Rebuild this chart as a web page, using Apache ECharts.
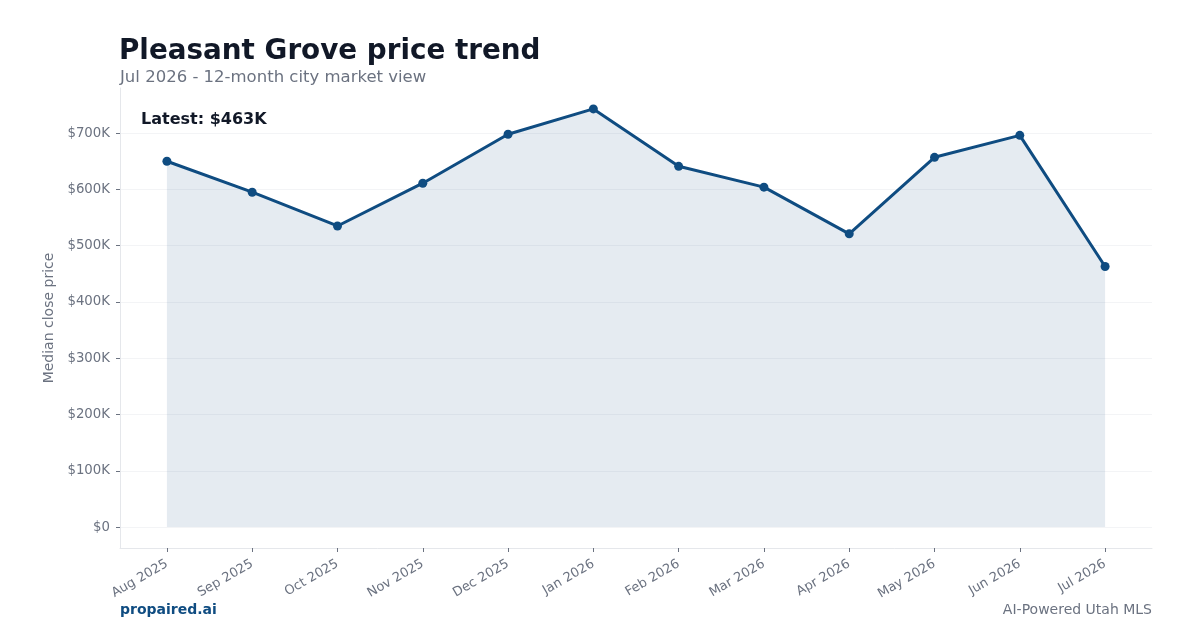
<!DOCTYPE html>
<html>
<head>
<meta charset="utf-8">
<script src="https://cdn.jsdelivr.net/npm/echarts@6/dist/echarts.min.js"></script>
<style>
  html, body { margin: 0; padding: 0; background: #fff; }
  #chart { width: 1200px; height: 630px; }
</style>
</head>
<body>
<div id="chart"></div>
<script>
var months = ['Aug 2025', 'Sep 2025', 'Oct 2025', 'Nov 2025', 'Dec 2025', 'Jan 2026',
              'Feb 2026', 'Mar 2026', 'Apr 2026', 'May 2026', 'Jun 2026', 'Jul 2026'];
var medianPrice = [650000, 595000, 535000, 611000, 698000, 743000,
                   641000, 604000, 521000, 657000, 696000, 463000];
var yTicks = [0, 100000, 200000, 300000, 400000, 500000, 600000, 700000];
var xTicks = months.map(function (m, i) { return i; });

var dom = document.getElementById('chart');
var myChart = echarts.init(dom, null, { renderer: 'canvas' });
var font = 'DejaVu Sans';

var points = medianPrice.map(function (v, i) { return [i, v]; });

function money(v) {
    return v === 0 ? '$0' : '$' + Math.round(v / 1000) + 'K';
}

var option = {
    animation: false,
    backgroundColor: '#ffffff',
    textStyle: { fontFamily: font },
    grid: { left: 120, right: 48, top: 88, bottom: 82 },
    graphic: [
        { type: 'text', left: 119, top: 38, style: { text: 'Pleasant Grove price trend', font: 'bold 27.8px "DejaVu Sans"', fill: '#111827' } },
        { type: 'text', left: 120, top: 69, style: { text: 'Jul 2026 - 12-month city market view', font: '16.5px "DejaVu Sans"', fill: '#6b7280' } },
        { type: 'text', left: 141, top: 112, style: { text: 'Latest: ' + money(medianPrice[medianPrice.length - 1]), font: 'bold 16px "DejaVu Sans"', fill: '#111827' } },
        { type: 'text', left: 120, top: 603, style: { text: 'propaired.ai', font: 'bold 14px "DejaVu Sans"', fill: '#0f4c81' } },
        { type: 'text', right: 48, top: 603, style: { text: 'AI-Powered Utah MLS', font: '14px "DejaVu Sans"', fill: '#6b7280', align: 'right' } }
    ],
    xAxis: {
        type: 'value',
        min: -0.55,
        max: 11.55,
        axisLine: { show: true, onZero: false, lineStyle: { color: '#e5e7eb', width: 1 } },
        axisTick: { show: true, customValues: xTicks, length: 4, lineStyle: { color: '#6b7280' } },
        axisLabel: {
            customValues: xTicks,
            rotate: 30,
            margin: 15,
            color: '#6b7280',
            fontSize: 13,
            fontFamily: font,
            formatter: function (v) { return months[Math.round(v)]; }
        },
        splitLine: { show: false }
    },
    yAxis: {
        type: 'value',
        min: -37150,
        max: 780150,
        name: 'Median close price',
        nameLocation: 'middle',
        nameGap: 61,
        nameTextStyle: { color: '#6b7280', fontSize: 14, fontFamily: font },
        axisLine: { show: true, onZero: false, lineStyle: { color: '#e5e7eb', width: 1 } },
        axisTick: { show: true, customValues: yTicks, length: 4, lineStyle: { color: '#6b7280' } },
        axisLabel: {
            customValues: yTicks,
            margin: 10,
            color: '#6b7280',
            fontSize: 13.3,
            fontFamily: font,
            formatter: money
        },
        splitLine: { show: true, lineStyle: { color: '#f3f4f6', width: 1 } }
    },
    series: [{
        type: 'line',
        data: points,
        symbol: 'circle',
        symbolSize: 9,
        itemStyle: { color: '#0f4c81' },
        lineStyle: { color: '#0f4c81', width: 3 },
        areaStyle: { color: 'rgba(15,76,129,0.11)', opacity: 1, origin: 0 }
    }]
};

myChart.setOption(option, true);
</script>
</body>
</html>
